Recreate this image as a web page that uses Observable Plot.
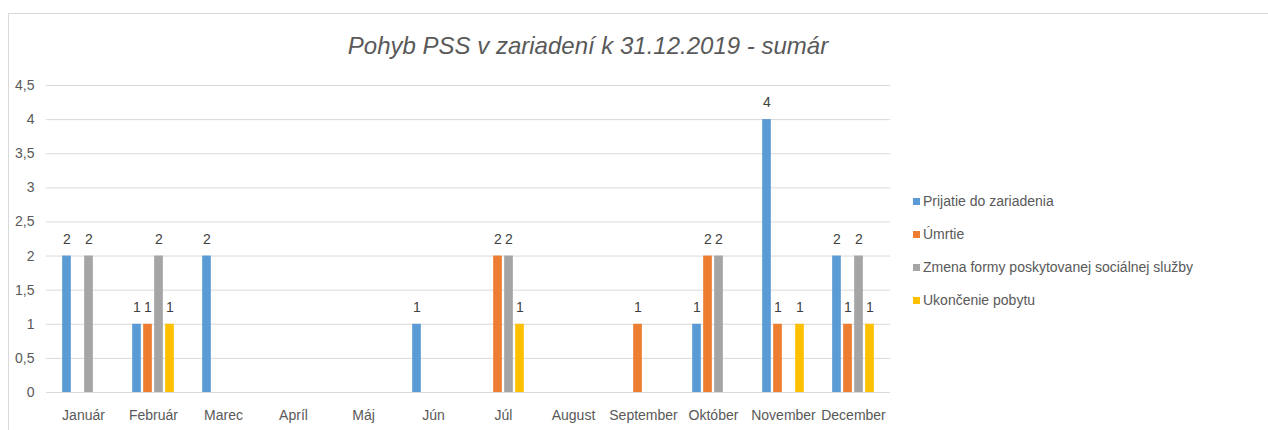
<!DOCTYPE html>
<html>
<head>
<meta charset="utf-8">
<script src="https://cdn.jsdelivr.net/npm/d3@7"></script>
<script src="https://cdn.jsdelivr.net/npm/@observablehq/plot@0.6"></script>
<style>
  html, body { margin: 0; padding: 0; background: #fff; overflow: hidden; }
  #wrap { position: relative; width: 1268px; height: 430px; overflow: hidden; font-family: "Liberation Sans", Arial, sans-serif; }
  #frame { position: absolute; left: 8px; top: 13px; width: 1300px; height: 500px; border: 1px solid #d9d9d9; box-sizing: border-box; }
  #chart { position: absolute; left: 0; top: 0; }
  #title { position: absolute; left: 0; width: 1176px; top: 32px; text-align: center; font-size: 24px; font-style: italic; color: #595959; white-space: nowrap; }
  #legend { position: absolute; left: 913px; top: 0; color: #595959; font-size: 14px; }
  .item { position: absolute; left: 0; white-space: nowrap; display: flex; align-items: center; height: 20px; }
  .sw { width: 7px; height: 7px; margin-right: 3px; display: inline-block; }
</style>
</head>
<body>
<div id="wrap">
  <div id="frame"></div>
  <div id="chart"></div>
  <div id="title">Pohyb PSS v zariadení k 31.12.2019 - sumár</div>
  <div id="legend"></div>
</div>
<script>
const months = ["Január","Február","Marec","Apríl","Máj","Jún","Júl","August","September","Október","November","December"];
const seriesNames = ["Prijatie do zariadenia","Úmrtie","Zmena formy poskytovanej sociálnej služby","Ukončenie pobytu"];
const seriesColors = ["#5B9BD5","#ED7D31","#A5A5A5","#FFC000"];
const prijatie  = [2,1,2,0,0,1,0,0,0,1,4,2];
const umrtie    = [0,1,0,0,0,0,2,0,1,2,1,1];
const zmena     = [2,2,0,0,0,0,2,0,0,2,0,2];
const ukoncenie = [0,1,0,0,0,0,1,0,0,0,1,1];
const yTicks = [0,0.5,1,1.5,2,2.5,3,3.5,4,4.5];

const seriesValues = [prijatie, umrtie, zmena, ukoncenie];

const W = 1268, H = 430;
const mL = 46, mR = W - 890, mT = 85, mB = H - 392;
const step = (W - mL - mR) / months.length;
const barW = 9, barStep = 11;
const inset = (step - barW) / 2;

const marks = [
  Plot.gridY(yTicks, {stroke: "#d9d9d9", strokeOpacity: 1})
];
seriesValues.forEach((vals, i) => {
  const rows = months.map((m, j) => ({month: m, value: vals[j]})).filter(d => d.value > 0);
  const dx = (i - 1.5) * barStep;
  marks.push(Plot.barY(rows, {x: "month", y: "value", fill: seriesColors[i], insetLeft: inset + dx, insetRight: inset - dx}));
  marks.push(Plot.text(rows, {x: "month", y: "value", text: d => String(d.value), dx: dx, dy: -17, fill: "#404040", fontSize: 14}));
});

const chart = Plot.plot({
  width: W, height: H,
  marginLeft: mL, marginRight: mR, marginTop: mT, marginBottom: mB,
  style: {fontFamily: "'Liberation Sans', Arial, sans-serif", fontSize: "14px", color: "#595959", background: "transparent"},
  x: {domain: months, padding: 0, label: null, tickSize: 0, tickPadding: 18},
  y: {domain: [0, 4.5], ticks: yTicks, label: null, tickSize: 0, tickPadding: 12, tickFormat: d => String(d).replace(".", ",")},
  marks
});
document.getElementById("chart").appendChild(chart);

const legend = document.getElementById("legend");
const rowY = [201, 234, 267, 300];
seriesNames.forEach((n, i) => {
  const it = document.createElement("div");
  it.className = "item";
  it.style.top = (rowY[i] - 10) + "px";
  const sw = document.createElement("span");
  sw.className = "sw";
  sw.style.background = seriesColors[i];
  it.appendChild(sw);
  it.appendChild(document.createTextNode(n));
  legend.appendChild(it);
});
</script>
</body>
</html>
